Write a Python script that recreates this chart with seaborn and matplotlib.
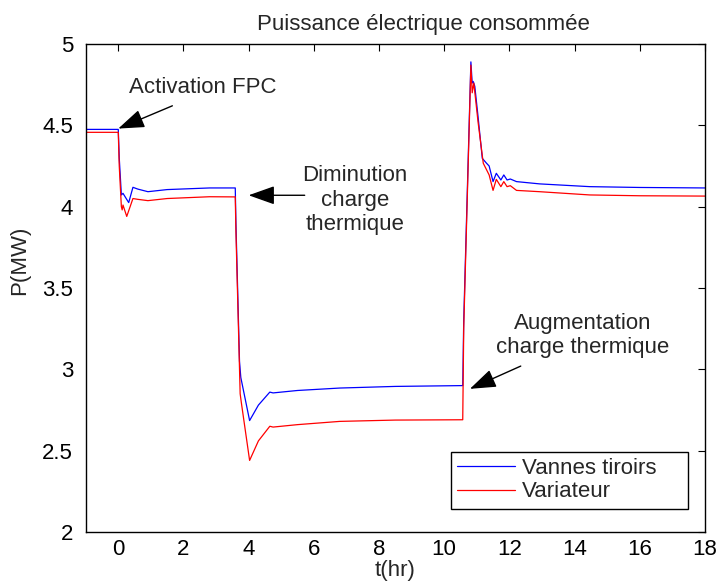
import matplotlib
matplotlib.use("Agg")
import matplotlib.pyplot as plt
import seaborn as sns
import pandas as pd

# Electrical power drawn over time (MW), two control strategies
t_vannes = [-1.0, 0.0, 0.03, 0.095, 0.145, 0.32, 0.45, 0.6, 0.91, 1.5, 2.8,
            3.59, 3.61, 3.72, 3.76, 4.03, 4.3, 4.65, 4.75, 5.5, 6.8, 8.5,
            10.57, 10.6, 10.82, 10.86, 10.89, 10.94, 11.04, 11.17, 11.3, 11.38,
            11.5, 11.6, 11.74, 11.83, 11.93, 12.03, 12.22, 12.93, 14.47, 16.0, 18.0]
p_vannes = [4.475, 4.475, 4.3, 4.072, 4.082, 4.025, 4.119, 4.108, 4.092, 4.105, 4.115,
            4.115, 3.9, 3.05, 2.95, 2.685, 2.78, 2.86, 2.855, 2.87, 2.885, 2.895,
            2.90, 3.3, 4.89, 4.76, 4.77, 4.74, 4.553, 4.297, 4.267, 4.25,
            4.154, 4.205, 4.164, 4.195, 4.164, 4.17, 4.154, 4.14, 4.123, 4.118, 4.115]

t_variateur = [-1.0, 0.0, 0.03, 0.095, 0.12, 0.145, 0.26, 0.45, 0.6, 0.91, 1.5, 2.8,
               3.59, 3.61, 3.74, 3.78, 4.03, 4.3, 4.65, 4.75, 5.5, 6.8, 8.5,
               10.57, 10.6, 10.82, 10.86, 10.91, 11.04, 11.2, 11.38, 11.5, 11.6,
               11.74, 11.83, 11.93, 12.03, 12.22, 12.93, 14.47, 16.0, 18.0]
p_variateur = [4.457, 4.457, 4.25, 4.0, 3.98, 4.01, 3.94, 4.05, 4.045, 4.037, 4.05, 4.061,
               4.06, 3.85, 2.85, 2.79, 2.44, 2.56, 2.65, 2.645, 2.66, 2.68, 2.688,
               2.69, 3.25, 4.87, 4.70, 4.76, 4.52, 4.267, 4.195, 4.10, 4.168,
               4.123, 4.154, 4.123, 4.129, 4.10, 4.092, 4.072, 4.067, 4.065]

series_names = ["Vannes tiroirs", "Variateur"]
series_colors = ["#0000ff", "#ff0000"]

x_ticks = [0, 2, 4, 6, 8, 10, 12, 14, 16, 18]
y_ticks = [2, 2.5, 3, 3.5, 4, 4.5, 5]

df = pd.concat([
    pd.DataFrame({"t": t_vannes, "P": p_vannes, "série": series_names[0]}),
    pd.DataFrame({"t": t_variateur, "P": p_variateur, "série": series_names[1]}),
], ignore_index=True)

sns.set_style("white")
plt.rcParams["font.family"] = ["Liberation Sans", "DejaVu Sans"]
FS = 16
plt.rcParams["font.size"] = FS

fig = plt.figure(figsize=(7.2, 5.85), dpi=100)
ax = fig.add_axes([0.119, 0.0906, 0.860, 0.8342])

sns.lineplot(data=df, x="t", y="P", hue="série", hue_order=series_names,
             palette=series_colors, estimator=None, sort=False,
             linewidth=0.9, ax=ax)

ax.set_xlim(-1, 18)
ax.set_ylim(2, 5)
ax.set_xticks(x_ticks)
ax.set_xticklabels([str(v) for v in x_ticks])
ax.set_yticks(y_ticks)
ax.set_yticklabels(["2", "2.5", "3", "3.5", "4", "4.5", "5"])
ax.tick_params(direction="in", length=5, width=0.8, top=True, right=True,
               labelsize=FS, colors="black", pad=5)
ax.tick_params(axis="y", pad=9)
for s in ax.spines.values():
    s.set_color("black")
    s.set_linewidth(1.0)
    s.set_visible(True)

ax.set_title("Puissance électrique consommée", fontsize=FS, x=0.546, pad=10)
ax.set_xlabel("t(hr)", fontsize=FS, labelpad=0)
ax.set_ylabel("P(MW)", fontsize=FS)
ax.yaxis.set_label_coords(-0.089, 0.557)

# Legend box stretched to a fixed width, entries left-aligned inside it
leg = ax.legend(loc="lower left", bbox_to_anchor=(0.5897, 0.047, 0.383, 0.1),
                mode="expand", borderaxespad=0, fancybox=False, framealpha=1,
                edgecolor="black", fontsize=FS, handlelength=2.6,
                handletextpad=0.3, borderpad=0.3, labelspacing=0.1)
leg.get_frame().set_linewidth(1.0)
for line in leg.get_lines():
    line.set_linewidth(0.9)

arrow = dict(arrowstyle="-|>,head_length=0.9,head_width=0.32", color="black",
             lw=1.0, mutation_scale=18, shrinkA=0, shrinkB=0)
ax.annotate("", xy=(0.0, 4.48), xytext=(1.66, 4.62), arrowprops=arrow)
ax.text(2.59, 4.73, "Activation FPC", ha="center", va="center", fontsize=FS)

ax.annotate("", xy=(4.0, 4.07), xytext=(5.72, 4.07), arrowprops=arrow)
ax.text(7.26, 4.04, "Diminution\ncharge\nthermique", ha="center", va="center",
        fontsize=FS, multialignment="center", linespacing=1.24)

ax.annotate("", xy=(10.79, 2.88), xytext=(12.35, 3.02), arrowprops=arrow)
ax.text(14.25, 3.21, "Augmentation\ncharge thermique", ha="center", va="center",
        fontsize=FS, multialignment="center", linespacing=1.2)

fig.savefig("out.png", dpi=100)
